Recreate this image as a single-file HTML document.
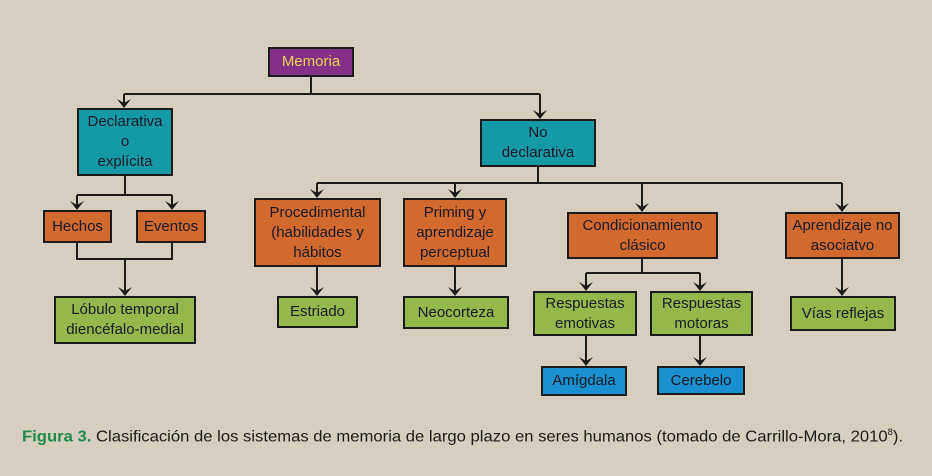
<!DOCTYPE html>
<html><head><meta charset="utf-8"><style>
html,body{margin:0;padding:0}
body{width:932px;height:476px;background:#d6cfc0;position:relative;overflow:hidden;font-family:"Liberation Sans",sans-serif}
.b{position:absolute;box-sizing:border-box;border:2px solid #1b1b1b;display:flex;align-items:center;justify-content:center;text-align:center;font-size:15px;line-height:20px;color:#1a1a26;white-space:nowrap}
.p{background:#862f88;color:#e6d650}
.t{background:#159aa5}
.o{background:#d2692f}
.g{background:#94b84b}
.u{background:#1b90cf}
svg{position:absolute;left:0;top:0}
.cap{position:absolute;left:22px;top:427px;font-size:16px;color:#1a1a1a;white-space:nowrap;transform-origin:0 0;transform:scaleX(1.04)}
.cap b{color:#1f8a4a}
</style></head><body>
<svg width="932" height="476" fill="none" stroke="#1b1b1b" stroke-width="2">
<path d="M311 76V94M124 94H540M124 94V105M540 94V116"/>
<path d="M125 175V195M77 195H172M77 195V207M172 195V207"/>
<path d="M77 242V259H172V242M125 259V293"/>
<path d="M538 166V183M317 183H842M317 183V195M455 183V195M642 183V209M842 183V209"/>
<path d="M317 266V293M455 266V293M842 258V293"/>
<path d="M642 258V273M586 273H700M586 273V288M700 273V288"/>
<path d="M586 335V363M700 335V363"/>
<g fill="#1b1b1b" stroke="none">
<path d="M-7 -9L0 -5L7 -9L0 0Z" transform="translate(124 108)"/>
<path d="M-7 -9L0 -5L7 -9L0 0Z" transform="translate(540 119)"/>
<path d="M-7 -9L0 -5L7 -9L0 0Z" transform="translate(77 210)"/>
<path d="M-7 -9L0 -5L7 -9L0 0Z" transform="translate(172 210)"/>
<path d="M-7 -9L0 -5L7 -9L0 0Z" transform="translate(125 296)"/>
<path d="M-7 -9L0 -5L7 -9L0 0Z" transform="translate(317 198)"/>
<path d="M-7 -9L0 -5L7 -9L0 0Z" transform="translate(455 198)"/>
<path d="M-7 -9L0 -5L7 -9L0 0Z" transform="translate(642 212)"/>
<path d="M-7 -9L0 -5L7 -9L0 0Z" transform="translate(842 212)"/>
<path d="M-7 -9L0 -5L7 -9L0 0Z" transform="translate(317 296)"/>
<path d="M-7 -9L0 -5L7 -9L0 0Z" transform="translate(455 296)"/>
<path d="M-7 -9L0 -5L7 -9L0 0Z" transform="translate(842 296)"/>
<path d="M-7 -9L0 -5L7 -9L0 0Z" transform="translate(586 291)"/>
<path d="M-7 -9L0 -5L7 -9L0 0Z" transform="translate(700 291)"/>
<path d="M-7 -9L0 -5L7 -9L0 0Z" transform="translate(586 366)"/>
<path d="M-7 -9L0 -5L7 -9L0 0Z" transform="translate(700 366)"/>
</g>
</svg>
<div class="b p" style="left:268px;top:47px;width:86px;height:30px">Memoria</div>
<div class="b t" style="left:77px;top:108px;width:96px;height:68px">Declarativa<br>o<br>explícita</div>
<div class="b t" style="left:480px;top:119px;width:116px;height:48px">No<br>declarativa</div>
<div class="b o" style="left:43px;top:210px;width:69px;height:33px">Hechos</div>
<div class="b o" style="left:136px;top:210px;width:70px;height:33px">Eventos</div>
<div class="b g" style="left:54px;top:296px;width:142px;height:48px">Lóbulo temporal<br>diencéfalo-medial</div>
<div class="b o" style="left:254px;top:198px;width:127px;height:69px">Procedimental<br>(habilidades y<br>hábitos</div>
<div class="b o" style="left:403px;top:198px;width:104px;height:69px">Priming y<br>aprendizaje<br>perceptual</div>
<div class="b g" style="left:277px;top:296px;width:81px;height:32px">Estriado</div>
<div class="b g" style="left:403px;top:296px;width:106px;height:33px">Neocorteza</div>
<div class="b o" style="left:567px;top:212px;width:151px;height:47px">Condicionamiento<br>clásico</div>
<div class="b o" style="left:785px;top:212px;width:115px;height:47px">Aprendizaje no<br>asociatvo</div>
<div class="b g" style="left:533px;top:291px;width:104px;height:45px">Respuestas<br>emotivas</div>
<div class="b g" style="left:650px;top:291px;width:103px;height:45px">Respuestas<br>motoras</div>
<div class="b g" style="left:790px;top:296px;width:106px;height:35px">Vías reflejas</div>
<div class="b u" style="left:541px;top:366px;width:86px;height:30px">Amígdala</div>
<div class="b u" style="left:657px;top:366px;width:88px;height:29px">Cerebelo</div>
<div class="cap"><b>Figura 3.</b> Clasificación de los sistemas de memoria de largo plazo en seres humanos (tomado de Carrillo-Mora, 2010<sup style="font-size:9px">8</sup>).</div>
</body></html>
